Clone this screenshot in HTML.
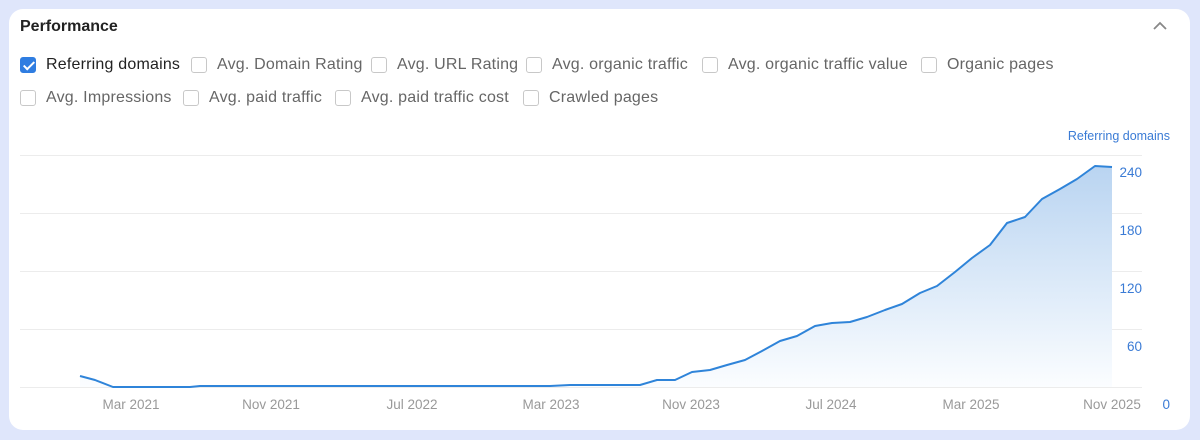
<!DOCTYPE html>
<html><head><style>
body{margin:0;width:1200px;height:440px;background:#dfe6fb;font-family:"Liberation Sans",sans-serif;overflow:hidden}
.card{position:absolute;left:9px;top:9px;width:1181px;height:421px;background:#fff;border-radius:14px}
.t{position:absolute;left:20px;top:18px;font-size:16px;font-weight:bold;color:#222}
.cb{position:absolute;font-size:16px;letter-spacing:0.2px;color:#666;display:flex;align-items:center;white-space:nowrap}
.cb i{display:inline-block;width:16px;height:16px;border:1px solid #c8c8c8;border-radius:3px;margin-right:10px;box-sizing:border-box}
.cb.on{color:#222}
.cb.on i{background:#2f7de1;border-color:#2f7de1;position:relative}
.cb.on i:after{content:"";position:absolute;left:5px;top:1px;width:4px;height:9px;border:solid #fff;border-width:0 2px 2px 0;transform:rotate(45deg)}
</style></head><body>
<div class="card"></div>
<div class="t">Performance</div>
<svg style="position:absolute;left:1153px;top:21px" width="14" height="10"><path d="M1 8 L7 2 L13 8" fill="none" stroke="#888" stroke-width="1.8"/></svg>
<div class="cb on" style="left:20px;top:56px"><i></i>Referring domains</div>
<div class="cb" style="left:191px;top:56px"><i></i>Avg. Domain Rating</div>
<div class="cb" style="left:371px;top:56px"><i></i>Avg. URL Rating</div>
<div class="cb" style="left:526px;top:56px"><i></i>Avg. organic traffic</div>
<div class="cb" style="left:702px;top:56px"><i></i>Avg. organic traffic value</div>
<div class="cb" style="left:921px;top:56px"><i></i>Organic pages</div>
<div class="cb" style="left:20px;top:89px"><i></i>Avg. Impressions</div>
<div class="cb" style="left:183px;top:89px"><i></i>Avg. paid traffic</div>
<div class="cb" style="left:335px;top:89px"><i></i>Avg. paid traffic cost</div>
<div class="cb" style="left:523px;top:89px"><i></i>Crawled pages</div>
<svg style="position:absolute;left:0;top:0" width="1200" height="440">
<defs><linearGradient id="g" x1="0" y1="0" x2="0" y2="1"><stop offset="0" stop-color="#b9d4f1"/><stop offset="1" stop-color="#fbfdff"/></linearGradient></defs>
<g stroke="#ececec" stroke-width="1">
<line x1="20" x2="1142" y1="155.5" y2="155.5"/><line x1="20" x2="1142" y1="213.5" y2="213.5"/><line x1="20" x2="1142" y1="271.5" y2="271.5"/><line x1="20" x2="1142" y1="329.5" y2="329.5"/><line x1="20" x2="1142" y1="387.5" y2="387.5"/></g>
<path d="M80,376 L95,380 L113,387 L190,387 L200,386 L550,386 L570,385 L640,385 L657,380 L675,380 L692,372 L710,370 L727,365 L745,360 L762,351 L780,341 L797,336 L815,326 L832,323 L850,322 L867,317 L885,310 L902,304 L920,293 L937,286 L955,272 L972,258 L990,245 L1007,223 L1025,217 L1042,199 L1060,189 L1077,179 L1095,166 L1112,167 L1112,387 L80,387Z" fill="url(#g)"/>
<polyline points="80,376 95,380 113,387 190,387 200,386 550,386 570,385 640,385 657,380 675,380 692,372 710,370 727,365 745,360 762,351 780,341 797,336 815,326 832,323 850,322 867,317 885,310 902,304 920,293 937,286 955,272 972,258 990,245 1007,223 1025,217 1042,199 1060,189 1077,179 1095,166 1112,167" fill="none" stroke="#2f84d9" stroke-width="2" stroke-linejoin="round"/>
<g font-size="13.5" fill="#3a7bd5" text-anchor="end"><text x="1170" y="140" font-size="12.5">Referring domains</text><text x="1142" y="177">240</text><text x="1142" y="235">180</text><text x="1142" y="293">120</text><text x="1142" y="351">60</text><text x="1170" y="409">0</text></g>
<g font-size="13.5" fill="#999" text-anchor="middle"><text x="131" y="409">Mar 2021</text><text x="271" y="409">Nov 2021</text><text x="412" y="409">Jul 2022</text><text x="551" y="409">Mar 2023</text><text x="691" y="409">Nov 2023</text><text x="831" y="409">Jul 2024</text><text x="971" y="409">Mar 2025</text><text x="1112" y="409">Nov 2025</text></g>
</svg>
</body></html>
